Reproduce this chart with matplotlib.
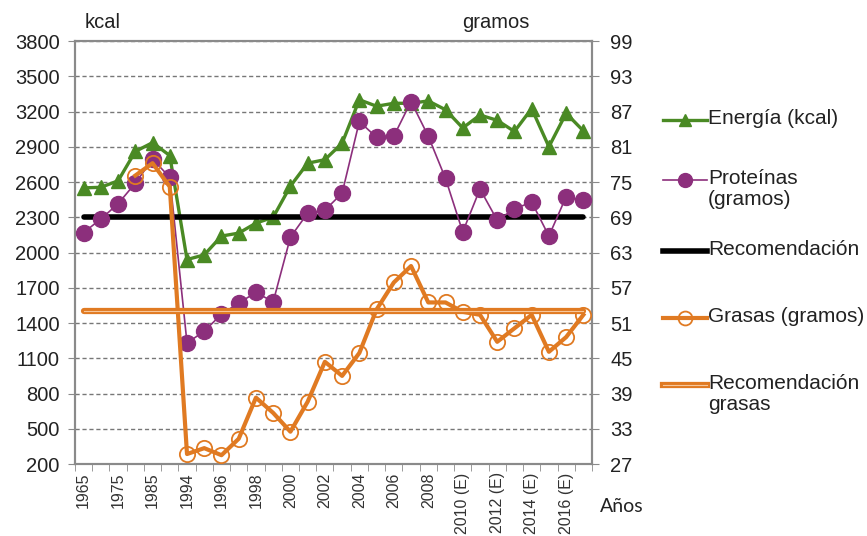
import numpy as np
import matplotlib.pyplot as plt
from matplotlib.lines import Line2D

plt.rcParams['font.family'] = ['Liberation Sans', 'DejaVu Sans']

# DATOS ==========================================================================
anios = ['1965', '1970', '1975', '1980', '1985', '1990',
         '1994', '1995', '1996', '1997', '1998', '1999', '2000', '2001', '2002',
         '2003', '2004', '2005', '2006', '2007', '2008', '2009',
         '2010 (E)', '2011 (E)', '2012 (E)', '2013 (E)', '2014 (E)', '2015 (E)',
         '2016 (E)', '2017 (E)']

energia = [2550, 2555, 2610, 2860, 2935, 2825, 1940, 1980, 2140, 2165, 2250, 2300,
           2565, 2760, 2790, 2930, 3300, 3245, 3270, 3270, 3290, 3215, 3060, 3170,
           3125, 3030, 3225, 2900, 3185, 3035]          # kcal

proteinas = [66.4, 68.7, 71.3, 74.8, 78.9, 75.8, 47.6, 49.6, 52.5, 54.4, 56.2, 54.6,
             65.6, 69.7, 70.2, 73.1, 85.3, 82.6, 82.8, 88.7, 82.8, 75.6, 66.5, 73.8,
             68.5, 70.4, 71.6, 65.8, 72.5, 71.9]        # gramos

grasas = [np.nan, np.nan, np.nan, 76.1, 78.2, 74.2, 28.7, 29.7, 28.5, 31.3, 38.3, 35.7,
          32.5, 37.6, 44.4, 42.0, 45.9, 53.3, 57.9, 60.7, 54.5, 54.5, 52.9, 52.4,
          47.8, 50.1, 52.4, 46.1, 48.6, 52.4]           # gramos

rec_kcal = 2300   # kcal
rec_grasas = 53   # gramos

verde = '#4a8a24'; morado = '#8c2f7c'; naranja = '#e07a22'; gris = '#8a8a8a'
naranja_claro = '#f6c79c'

# GRAFICO ========================================================================
x = np.arange(len(anios))
fig = plt.figure(figsize=(8.67, 5.36), dpi=100)
ax = fig.add_axes([0.0865, 0.1343, 0.5963, 0.7892])
ax2 = ax.twinx()

ax.plot(x, energia, color=verde, lw=2.4, marker='^', ms=10.5, zorder=3)
ax.plot(x, [rec_kcal] * len(x), color='k', lw=4, zorder=4, solid_capstyle='round')

ax2.plot(x, proteinas, color=morado, lw=1.2, marker='o', ms=11.5, zorder=3)
ax2.plot(x, grasas, color=naranja, lw=3, marker='o', ms=11, mfc='none', mec=naranja,
         mew=1.3, zorder=4)
ax2.plot(x, [rec_grasas] * len(x), color=naranja, lw=4.5, zorder=5, solid_capstyle='round')
ax2.plot(x, [rec_grasas] * len(x), color=naranja_claro, lw=0.8, zorder=6)

# ejes
ax.set_xlim(-0.5, len(x) - 0.5)
ax.set_ylim(200, 3800)
ax.set_yticks(np.arange(200, 3801, 300))
ax2.set_ylim(27, 99)
ax2.set_yticks(np.arange(27, 100, 6))

ax.set_xticks(x)
ax.set_xticklabels([a if i % 2 == 0 else '' for i, a in enumerate(anios)],
                   rotation=90, fontsize=11.5, color='#333333')
ax.set_xticks(np.arange(-0.5, len(x)), minor=True)
ax.tick_params(axis='x', which='major', length=0, pad=6)
ax.tick_params(axis='x', which='minor', length=5, color=gris, direction='out')
ax.tick_params(axis='y', length=5, color=gris, labelsize=14.5, pad=6, labelcolor='#222222')
ax2.tick_params(axis='y', length=5, color=gris, labelsize=14.5, pad=8, labelcolor='#222222')

ax.yaxis.grid(True, linestyle=(0, (3, 2)), color='#777777', lw=1)
ax.set_axisbelow(True)
for a in (ax, ax2):
    for s in a.spines.values():
        s.set_color(gris); s.set_linewidth(1.5)

fig.text(0.098, 0.958, 'kcal', fontsize=14.5, color='#222222', va='center')
fig.text(0.533, 0.958, 'gramos', fontsize=14.5, color='#222222', va='center')
fig.text(0.692, 0.055, 'Años', fontsize=14, color='#222222', va='center',
         family=['Lato', 'DejaVu Sans'])

# LEYENDA (a mano, para alinear como el original) ================================
W, H = 867, 536
ley_txt = ['Energía (kcal)', 'Proteínas\n(gramos)', 'Recomendación',
           'Grasas (gramos)', 'Recomendación\ngrasas']
ley_y = [120, 180, 251, 318, 385]   # px desde arriba
estilos = [dict(color=verde, lw=2.4, marker='^', ms=9),
           dict(color=morado, lw=1.2, marker='o', ms=10),
           dict(color='k', lw=4),
           dict(color=naranja, lw=3, marker='o', ms=10, mfc='none', mew=1.3),
           dict(color=naranja, lw=4.5)]
x0, x1 = 663 / W, 707 / W
for t, yy, st in zip(ley_txt, ley_y, estilos):
    yf = 1 - yy / H
    fig.add_artist(Line2D([x0, x1], [yf, yf], transform=fig.transFigure,
                          color=st['color'], lw=st['lw']))
    if 'marker' in st:
        fig.add_artist(Line2D([(x0 + x1) / 2], [yf], transform=fig.transFigure,
                              marker=st['marker'], ms=st['ms'], color=st['color'],
                              mfc=st.get('mfc', st['color']), mew=st.get('mew', 1), lw=0))
    fig.text(708 / W, yf + 11 / H, t, fontsize=15, color='#222222', va='top',
             linespacing=1.15)
fig.add_artist(Line2D([x0, x1], [1 - 385 / H] * 2, transform=fig.transFigure,
                      color=naranja_claro, lw=0.8))

plt.savefig('out.png', dpi=100)
